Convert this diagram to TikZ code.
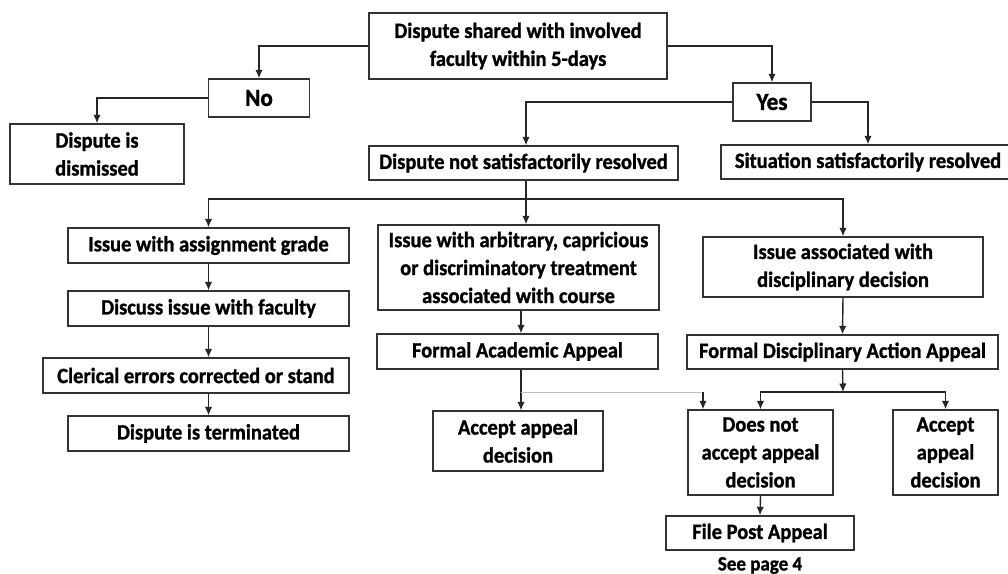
\documentclass[tikz,border=0pt]{standalone}
\usepackage{fontspec}
\setmainfont{Carlito}[FakeStretch=0.94, BoldFeatures={FakeBold=1.2}]
\usetikzlibrary{arrows.meta}

\begin{document}
\begin{tikzpicture}[
    box/.style={draw=black!80, line width=0.8pt, fill=white, align=center, inner sep=0pt, font=\fontsize{12.4}{15.9}\selectfont\bfseries},
    bigbox/.style={box, font=\fontsize{14}{16}\selectfont\bfseries},
    arr/.style={-{Latex[length=1.7mm,width=1.5mm]}, line width=0.8pt, black!85},
    faint/.style={line width=0.5pt, black!25}
  ]
        \useasboundingbox (0,0) rectangle (20.16,-11.46);

        \node (top) at (10.36,-0.92)[box, minimum width=5.96cm, minimum height=1.32cm] {Dispute shared with involved\\faculty within 5-days};
        \node (no) at (5.18,-1.96)[bigbox, minimum width=2.02cm, minimum height=0.76cm] {No};
        \node (yes) at (15.44,-2.04)[bigbox, minimum width=1.56cm, minimum height=0.76cm] {Yes};
        \node (dismissed) at (1.94,-3.08)[box, minimum width=3.48cm, minimum height=1.2cm] {Dispute is\\dismissed};
        \node (not-resolved) at (10.47,-3.26)[box, minimum width=6.18cm, minimum height=0.68cm] {Dispute not satisfactorily resolved};
        \node (resolved) at (17.36,-3.24)[box, minimum width=5.88cm, minimum height=0.68cm] {Situation satisfactorily resolved};

        \node (grade) at (4.17,-4.91)[box, minimum width=5.62cm, minimum height=0.7cm] {Issue with assignment grade};
        \node (discuss) at (4.17,-6.17)[box, minimum width=5.62cm, minimum height=0.7cm] {Discuss issue with faculty};
        \node (clerical) at (3.92,-7.51)[box, minimum width=6.12cm, minimum height=0.7cm] {Clerical errors corrected or stand};
        \node (terminated) at (4.17,-8.67)[box, minimum width=5.62cm, minimum height=0.7cm] {Dispute is terminated};

        \node (arbitrary) at (10.37,-5.35)[box, minimum width=5.62cm, minimum height=1.7cm] {Issue with arbitrary, capricious\\or discriminatory treatment\\associated with course};
        \node (academic) at (10.35,-7.03)[box, minimum width=5.62cm, minimum height=0.7cm] {Formal Academic Appeal};
        \node (accept-mid) at (10.36,-8.82)[box, minimum width=3.4cm, minimum height=1.2cm] {Accept appeal\\decision};

        \node (disciplinary) at (16.86,-5.34)[box, minimum width=5.6cm, minimum height=1.2cm] {Issue associated with\\disciplinary decision};
        \node (formal-disc) at (16.85,-7.04)[box, minimum width=6.22cm, minimum height=0.68cm] {Formal Disciplinary Action Appeal};
        \node (not-accept) at (15.21,-9.05)[box, minimum width=2.9cm, minimum height=1.7cm] {Does not\\accept appeal\\decision};
        \node (accept-right) at (18.91,-9.05)[box, minimum width=2.1cm, minimum height=1.7cm] {Accept\\appeal\\decision};
        \node (post-appeal) at (15.2,-10.66)[box, minimum width=3.76cm, minimum height=0.68cm] {File Post Appeal};
        \node (see-page) at (15.2,-11.31)[font=\fontsize{11.5}{13}\selectfont\bfseries, inner sep=0pt] {See page 4};

        \coordinate (split) at (10.52,-3.98);
        \coordinate (academic-split) at (10.42,-7.84);
        \coordinate (not-accept-in) at (14.06,-8.2);
        \coordinate (disc-split) at (16.86,-7.84);

        \draw[arr] (top.west) -| (no.north);
        \draw[arr] (top.east) -| (yes.north);
        \draw[arr] (no.west) -| (dismissed.north);
        \draw[arr] (yes.west) -| (split |- not-resolved.north);
        \draw[arr] (yes.east) -| (resolved.north);

        \draw[arr] (split |- not-resolved.south) -- (split |- arbitrary.north);
        \draw[arr] (split) -| (grade.north);
        \draw[arr] (split) -| (disciplinary.north);

        \draw[arr] (grade.south) -- (discuss.north);
        \draw[arr] (discuss.south) -- (discuss.south |- clerical.north);
        \draw[arr] (clerical.south -| terminated.north) -- (terminated.north);

        \draw[arr] (academic-split |- arbitrary.south) -- (academic-split |- academic.north);
        \draw[arr] (academic-split |- academic.south) -- (academic-split |- accept-mid.north);
        \draw[faint] (academic-split) -- (academic-split -| not-accept-in);
        \draw[arr] (academic-split -| not-accept-in) -- (not-accept-in |- not-accept.north);

        \draw[arr] (disciplinary.south) -- (formal-disc.north);
        \draw[arr] (formal-disc.south) -- (disc-split);
        \draw[arr] (disc-split) -| (not-accept.north);
        \draw[arr] (disc-split) -| (accept-right.north);
        \draw[arr] (not-accept.south) -- (post-appeal.north);
    \end{tikzpicture}
\end{document}
